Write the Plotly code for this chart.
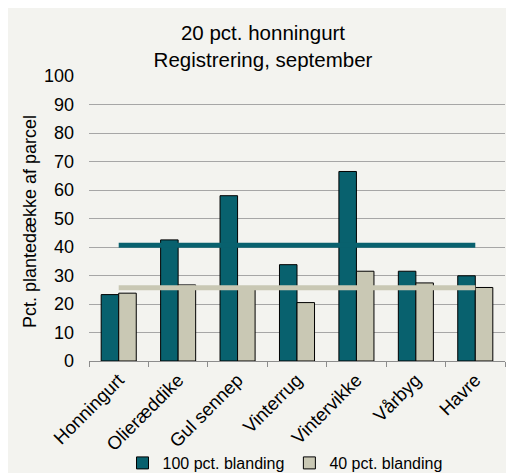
import plotly.graph_objects as go

categories = ["Honningurt", "Olieræddike", "Gul sennep", "Vinterrug", "Vintervikke", "Vårbyg", "Havre"]
values_100 = [23.3, 42.5, 58.0, 33.8, 66.5, 31.5, 29.9]
values_40 = [23.8, 26.7, 25.8, 20.5, 31.5, 27.4, 25.8]
mean_100 = 40.6
mean_40 = 25.7
series_names = ["100 pct. blanding", "40 pct. blanding"]
y_ticks = [0, 10, 20, 30, 40, 50, 60, 70, 80, 90, 100]

TEAL = "#08616e"
GRAY = "#c9c8b4"
BG = "#f3f3ef"
FONT = "Liberation Sans, Arial, sans-serif"

W, H = 514, 473
ML, MR, MT, MB = 81, 17, 68, 120
pw = W - ML - MR
ph = H - MT - MB

fig = go.Figure()
fig.add_trace(go.Bar(x=categories, y=values_100, name=series_names[0],
                     marker=dict(color=TEAL, line=dict(color="#000000", width=1))))
fig.add_trace(go.Bar(x=categories, y=values_40, name=series_names[1],
                     marker=dict(color=GRAY, line=dict(color="#000000", width=1))))
fig.add_trace(go.Scatter(x=categories, y=[mean_100] * len(categories), mode="lines",
                         line=dict(color=TEAL, width=5), showlegend=False, hoverinfo="skip"))
fig.add_trace(go.Scatter(x=categories, y=[mean_40] * len(categories), mode="lines",
                         line=dict(color=GRAY, width=5), showlegend=False, hoverinfo="skip"))

fig.add_annotation(text="Pct. plantedække af parcel", textangle=-90,
                   xref="paper", yref="paper", x=(22 - ML) / pw, y=(MT + ph - 214) / ph,
                   showarrow=False, font=dict(family=FONT, size=18, color="#000000"),
                   xanchor="center", yanchor="middle")

fig.update_layout(
    width=W, height=H,
    margin=dict(l=ML, r=MR, t=MT, b=MB, autoexpand=False),
    paper_bgcolor=BG,
    plot_bgcolor=BG,
    barmode="group",
    bargap=0.41,
    bargroupgap=0.0,
    font=dict(family=FONT, size=17, color="#000000"),
    title=dict(text="20 pct. honningurt<br>Registrering, september",
               x=255 / W, xanchor="center", y=1 - 32 / H, yanchor="middle",
               font=dict(family=FONT, size=20.5, color="#000000")),
    showlegend=True,
    legend=dict(orientation="h", x=(277 - ML) / pw, xanchor="center",
                y=(MT + ph - 455) / ph, yanchor="middle",
                font=dict(family=FONT, size=16, color="#000000"),
                bgcolor="rgba(0,0,0,0)", itemwidth=30),
    xaxis=dict(type="category", tickangle=-45, showgrid=False,
               showline=True, linecolor="#8c8c8c", linewidth=1,
               ticks="outside", tickson="boundaries", ticklen=5, tickcolor="#8c8c8c",
               tickfont=dict(family=FONT, size=18.5, color="#000000")),
    yaxis=dict(range=[0, 100], tickvals=y_ticks, showgrid=True,
               gridcolor="#a6a6a6", gridwidth=1, zeroline=False, showline=False,
               ticks="", ticklabelstandoff=14,
               tickfont=dict(family=FONT, size=18, color="#000000")),
)

fig.write_html("out.html")
